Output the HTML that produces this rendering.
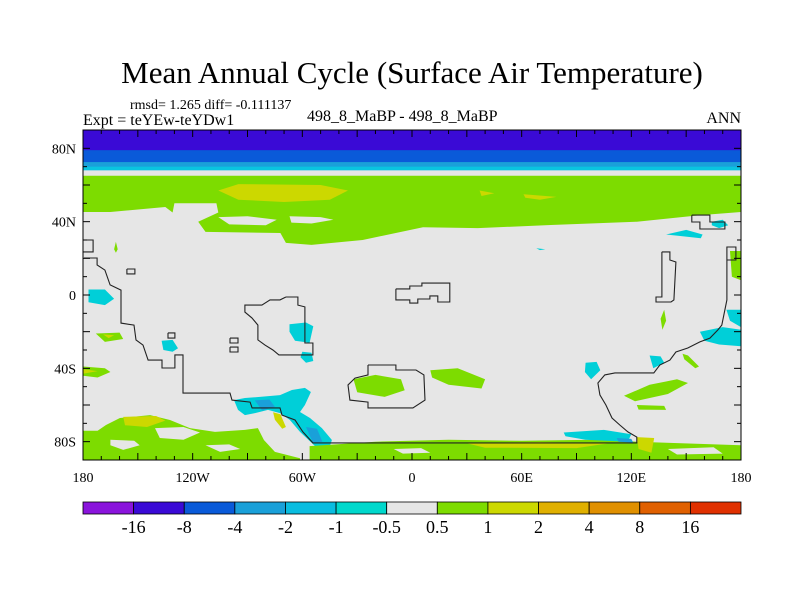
<!DOCTYPE html>
<html><head><meta charset="utf-8"><style>
body{margin:0;background:#fff;}
svg text{font-family:"Liberation Serif",serif;}
</style></head><body>
<svg id="chart" width="800" height="600" viewBox="0 0 800 600" xmlns="http://www.w3.org/2000/svg">
<text x="412" y="83" font-size="31" text-anchor="middle">Mean Annual Cycle (Surface Air Temperature)</text>
<text x="130" y="109" font-size="14">rmsd= 1.265 diff= -0.111137</text>
<text x="83" y="125" font-size="16">Expt = teYEw-teYDw1</text>
<text x="307" y="121" font-size="16">498_8_MaBP - 498_8_MaBP</text>
<text x="741" y="123" font-size="16" text-anchor="end">ANN</text>
<g id="map"></g>
<g id="coast"></g>
<g id="axes"></g>
<g id="cbar"></g>
</svg>
<script>
const cbLabels=["-16","-8","-4","-2","-1","-0.5","0.5","1","2","4","8","16"];
const cbColors=["#8a14dc","#3a0ad6","#0a5ad9","#1aa0d9","#0abde0","#00d8cc","#e6e6e6","#7ddc00","#ccd800","#e0b000","#e09000","#e06000","#e03000"];
const lonTicks=[-180,-120,-60,0,60,120,180];
const lonTickLabels=["180","120W","60W","0","60E","120E","180"];
const latTicks=[80,40,0,-40,-80];
const latTickLabels=["80N","40N","0","40S","80S"];
const zonalBands=[[90,79,"#3a0ad6"],[79,72.5,"#0a5ad9"],[72.5,70,"#1aa0d9"],[70,68,"#0ac4e0"],[68,65,"#e6e6e6"]];
const GR="#7ddc00",YE="#ccd800",CY="#00cfd8",BL="#1aa0d9",GY="#e6e6e6";
const blobs=[
 [GR,[[-180,65],[180,65],[180,45.3],[158,43.6],[123,40],[76,38.2],[36,36.5],[6,37],[-27,30],[-55,27.3],[-69,28.4],[-72,33.8],[-113,34.4],[-117,40],[-106,45],[-107,50],[-130,50],[-131,45],[-135,48],[-165,45.3],[-180,45.3]]],
 [GY,[[-106,42.5],[-90,43],[-74,41],[-80,38],[-100,38.5]]],
 [GY,[[-67,43],[-50,42.5],[-43,41],[-55,39],[-66,39.5]]],
 [YE,[[-106,57],[-95,60.5],[-50,60],[-35,57],[-45,52],[-70,50.7],[-95,52]]],
 [YE,[[37,57],[45,55.5],[38,54]]],
 [YE,[[61,55],[79,53.5],[70,52],[62,53]]],
 [GR,[[-162,29],[-161,25],[-162,23],[-163,25]]],
 [CY,[[164,40],[170,41],[173,38],[168,36.5],[164,38]]],
 [CY,[[139,33],[150,35.5],[159,33],[158,31],[148,32]]],
 [CY,[[68,25.5],[73,25],[70,24.5]]],
 [GR,[[174,24],[180,24],[180,8],[175,10]]],
 [GR,[[138,-8],[139,-14],[137,-19],[136,-13]]],
 [CY,[[-177,3],[-168,3],[-163,-2],[-168,-5.5],[-177,-4]]],
 [GR,[[-173,-21],[-160,-20.5],[-158,-24],[-168,-25.6]]],
 [YE,[[-169,-21.5],[-163,-22],[-166,-23.5]]],
 [GR,[[-180,-39],[-168,-40],[-165,-42],[-172,-45],[-180,-44]]],
 [YE,[[-180,-40.5],[-172,-41.5],[-180,-43]]],
 [CY,[[-137,-25],[-131,-24.5],[-128,-29],[-131,-31],[-136,-30]]],
 [CY,[[-67,-16],[-58,-15],[-54,-17],[-56,-26],[-64,-25],[-67,-20]]],
 [CY,[[-60,-31],[-55,-31.5],[-54,-36],[-58,-37],[-61,-34]]],
 [CY,[[-97.4,-57.3],[-91.4,-56.2],[-83.2,-55.6],[-72.2,-54.6],[-65.7,-51.8],[-58.6,-50.7],[-55.3,-52.9],[-58.6,-60],[-61.3,-63.8],[-55.8,-67.1],[-49.3,-72.6],[-43.8,-79.1],[-44.9,-82.4],[-53,-82.4],[-61.3,-74.7],[-66.8,-68.2],[-72.2,-64.4],[-78.8,-62.7],[-85.9,-64.4],[-91.4,-65.5],[-95.2,-62.7]]],
 [BL,[[-86,-57.5],[-78,-57],[-75,-61],[-82,-63]]],
 [BL,[[-58,-72],[-52,-73],[-49,-80],[-54,-81]]],
 [YE,[[-76,-64],[-72,-65],[-69,-72],[-71,-73],[-75,-68]]],
 [GR,[[-180,-74],[-172,-74],[-167.4,-70.9],[-159.8,-67.1],[-143.3,-65.5],[-132.4,-68.2],[-121.5,-72.6],[-107.8,-74.7],[-91.4,-73.6],[-84.3,-72.6],[-81,-79.1],[-75,-85.6],[-61.3,-89],[-61.3,-90],[-180,-90]]],
 [GY,[[-140.6,-72.6],[-125,-72],[-116,-75],[-125,-79],[-138,-78]]],
 [GY,[[-165,-79],[-152,-79.5],[-149,-82],[-158,-84.5],[-165,-82]]],
 [GY,[[-113,-82],[-100,-81.5],[-94,-84],[-105,-85.6]]],
 [YE,[[-158,-66.5],[-140,-66],[-135,-68.5],[-145,-72],[-157,-71]]],
 [GR,[[-56,-82.4],[-20,-80],[20,-79],[60,-79.5],[100,-79],[123,-80],[180,-82],[180,-90],[-56,-90]]],
 [GY,[[-10,-84],[5,-83.5],[10,-86],[-5,-86.5]]],
 [GY,[[140,-84],[165,-83],[170,-86.5],[145,-87]]],
 [YE,[[29,-80.7],[70,-80.2],[107,-81],[90,-83.5],[40,-83.3]]],
 [YE,[[123,-77.5],[132.5,-78],[131,-86],[124,-84]]],
 [CY,[[83,-75],[105,-73.6],[120,-76],[118,-80],[95,-79],[84,-77]]],
 [BL,[[112,-78],[120,-78.5],[121,-80.5],[113,-80]]],
 [GR,[[-32,-46],[-20,-43.6],[-6,-46],[-4,-52],[-15,-55.6],[-30,-53]]],
 [GR,[[10,-41],[25,-40],[40,-46],[38,-51],[20,-49],[11,-45]]],
 [GR,[[116,-55],[130,-49],[145,-46],[151,-48],[140,-54],[122,-58]]],
 [GR,[[123,-60],[138,-60.5],[139,-62.7],[124,-62.5]]],
 [CY,[[95,-37],[101,-36.5],[103,-41],[98,-46],[94.6,-42]]],
 [CY,[[157.5,-20],[170,-17.5],[180,-19],[180,-28],[168,-27],[160,-25]]],
 [CY,[[172,-8],[180,-8],[180,-17.5],[174,-14]]],
 [CY,[[130,-33],[136,-33.5],[138,-37],[132,-40]]],
 [GR,[[148,-32],[151,-33],[157,-39],[155,-40],[149,-35]]]
];
const coastlines=[
 [[-179.5,20.2],[-172.3,20.2],[-172.3,16.4],[-168,13.6],[-165.2,5.5],[-159.2,2.7],[-159.2,-15.3],[-152.1,-16.4],[-151,-24.5],[-147.2,-27.3],[-144.4,-35.5],[-136.8,-35.5],[-136.8,-39.8],[-129.7,-39.8],[-129.7,-32.7],[-125.3,-32.7],[-125.3,-53.5],[-99.6,-53.5],[-98.5,-57.3],[-88.6,-58.4],[-87.5,-61.6],[-72.2,-61.6],[-71.1,-65.5],[-64,-68.2],[-59.7,-74.7],[-54.2,-80.7],[123,-80.7],[123,-77.5],[118.1,-74.7],[113.7,-70.9],[109.4,-67.1],[106.1,-60],[102.8,-54.5],[101.7,-48],[105.5,-43.6],[111,-42.5],[132.3,-42.5],[135.6,-38.2],[141.1,-35.5],[144.4,-31.1],[150.9,-28.9],[157.5,-25.6],[163,-23.5],[167.3,-19.1],[169.5,-16.4],[172.3,-2.7],[172.3,19.1],[177.2,19.1],[177.2,26.2],[172.3,26.2],[172.3,19.1]],
 [[-69,-1.1],[-62.4,-1.1],[-62.4,-5.5],[-58.6,-6.5],[-58.6,-26.2],[-54.2,-26.2],[-54.2,-32.7],[-72.8,-32.7],[-76.1,-30],[-80.4,-27.3],[-84.3,-24.5],[-84.3,-16.4],[-87.6,-12.5],[-91.4,-9.3],[-91.4,-5.5],[-82.1,-5.5],[-77.7,-2.7],[-72.2,-2.7],[-69,-1.1]],
 [[-133.5,-20.7],[-129.7,-20.7],[-129.7,-23.5],[-133.5,-23.5],[-133.5,-20.7]],
 [[-99.6,-23.5],[-95.2,-23.5],[-95.2,-26.2],[-99.6,-26.2],[-99.6,-23.5]],
 [[-99.6,-28.4],[-95.2,-28.4],[-95.2,-31.1],[-99.6,-31.1],[-99.6,-28.4]],
 [[-156,14.2],[-151.6,14.2],[-151.6,11.5],[-156,11.5],[-156,14.2]],
 [[-180,30],[-174.5,30],[-174.5,23.5],[-180,23.5]],
 [[-8.8,3.3],[-1.2,3.3],[-1.2,4.9],[5.4,4.9],[5.4,6.5],[20.7,6.5],[20.7,-3.8],[14.1,-3.8],[14.1,-0.5],[9.8,-0.5],[9.8,-2.2],[3.2,-2.2],[3.2,-4.4],[-1.2,-4.4],[-1.2,-2.7],[-8.8,-2.7],[-8.8,3.3]],
 [[-24.1,-38.2],[-8.8,-38.2],[-8.8,-40.9],[2.2,-40.9],[6.5,-43.6],[7.1,-57.3],[0.5,-61.6],[-24.1,-61.6],[-24.1,-58.4],[-34,-57.3],[-35,-49.1],[-31.2,-45.3],[-24.1,-43.6],[-24.1,-38.2]],
 [[136.7,23.5],[141.1,23.5],[141.1,19.1],[144.4,18],[143.3,-2.7],[141.7,-3.8],[133.5,-3.8],[133.5,-1.1],[136.7,-1.1],[136.7,23.5]],
 [[153.1,43.6],[163,43.6],[163,39.8],[171.2,39.8],[171.2,36],[157.5,36],[157.5,39.8],[153.1,39.8],[153.1,43.6]]
];
const NS="http://www.w3.org/2000/svg";
const X0=83,X1=741,YT=130,YB=460;
function xs(lon){return X0+(lon+180)*(X1-X0)/360;}
function ys(lat){return YT+(90-lat)*(YB-YT)/180;}
function mk(tag,attrs,parent){const e=document.createElementNS(NS,tag);for(const k in attrs)e.setAttribute(k,attrs[k]);parent.appendChild(e);return e;}
const map=document.getElementById('map');
let bg=mk('rect',{x:X0,y:YT,width:X1-X0,height:YB-YT,fill:"#e6e6e6"},map);


zonalBands.forEach((b,i)=>{
 const r=mk('rect',{x:X0,y:ys(b[0]),width:X1-X0,height:ys(b[1])-ys(b[0])+0.5,fill:b[2]},map);
 
 
});
blobs.forEach((b,i)=>{
 const p=mk('polygon',{points:b[1].map(q=>xs(q[0]).toFixed(1)+','+ys(q[1]).toFixed(1)).join(' '),fill:b[0]},map);
 
 
});
const coast=document.getElementById('coast');
coastlines.forEach((c,i)=>{
 const p=mk('polyline',{points:c.map(q=>xs(q[0]).toFixed(1)+','+ys(q[1]).toFixed(1)).join(' '),fill:"none",stroke:"#222","stroke-width":1.1},coast);
 
 
});
const ax=document.getElementById('axes');
let fr=mk('rect',{x:X0,y:YT,width:X1-X0,height:YB-YT,fill:"none",stroke:"#000","stroke-width":1},ax);


for(let lon=-180;lon<=180;lon+=10){
 const L=(lon%30===0)?7:4,x=xs(lon);
 mk('line',{x1:x,y1:YT,x2:x,y2:YT+L,stroke:"#000"},ax);
 mk('line',{x1:x,y1:YB,x2:x,y2:YB-L,stroke:"#000"},ax);
}
for(let lat=-90;lat<=90;lat+=10){
 const L=(lat%20===0)?7:4,y=ys(lat);
 mk('line',{x1:X0,y1:y,x2:X0+L,y2:y,stroke:"#000"},ax);
 mk('line',{x1:X1,y1:y,x2:X1-L,y2:y,stroke:"#000"},ax);
}
lonTicks.forEach((v,i)=>{
 const t=mk('text',{x:xs(v),y:482,"font-size":14,"text-anchor":"middle"},ax);t.textContent=lonTickLabels[i];
 
 
});
latTicks.forEach((v,i)=>{
 const t=mk('text',{x:76,y:ys(v)+5,"font-size":14,"text-anchor":"end"},ax);t.textContent=latTickLabels[i];
 
 
});
const cb=document.getElementById('cbar');
const bw=(X1-X0)/cbColors.length;
cbColors.forEach((c,i)=>{
 const r=mk('rect',{x:X0+i*bw,y:502,width:bw,height:12,fill:c,stroke:"#000","stroke-width":0.8},cb);
 
 
});
cbLabels.forEach((l,i)=>{
 const t=mk('text',{x:X0+(i+1)*bw,y:533,"font-size":18,"text-anchor":"middle"},cb);t.textContent=l;
 
 
});
</script>
</body></html>
